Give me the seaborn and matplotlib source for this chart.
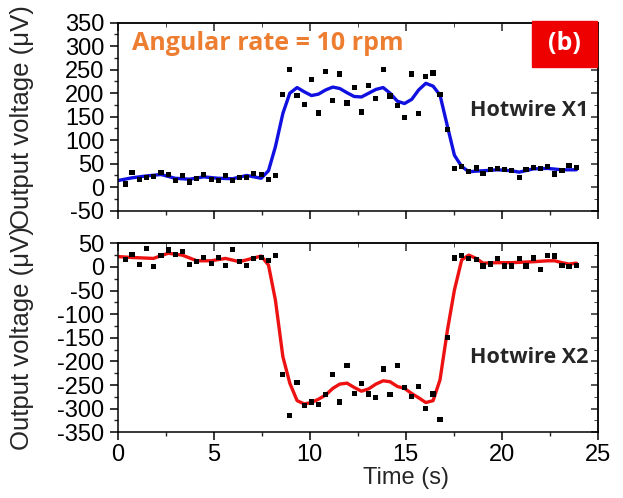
import numpy as np
import pandas as pd
import seaborn as sns
import matplotlib.pyplot as plt
from matplotlib.ticker import MultipleLocator
from matplotlib.patches import Rectangle

# sample times (s) of the measured points
t_pts = [0.40, 0.76, 1.15, 1.51, 1.87, 2.26, 2.64, 3.00, 3.37, 3.75, 4.13, 4.49,
         4.88, 5.24, 5.62, 5.99, 6.35, 6.73, 7.10, 7.48, 7.86, 8.22, 8.61, 8.97,
         9.35, 9.72, 10.10, 10.46, 10.84, 11.21, 11.57, 11.95, 12.32, 12.70, 13.08,
         13.45, 13.83, 14.19, 14.57, 14.94, 15.32, 15.68, 16.05, 16.43, 16.79, 17.18,
         17.54, 17.92, 18.29, 18.67, 19.03, 19.41, 19.78, 20.16, 20.52, 20.91, 21.27,
         21.65, 22.02, 22.40, 22.76, 23.14, 23.51, 23.89]

x1_pts = [7, 32, 17, 21, 22, 32, 27, 15, 25, 11, 19, 27,
          17, 15, 25, 15, 20, 21, 29, 27, 17, 25, 198, 251,
          195, 176, 229, 158, 247, 184, 241, 179, 212, 160, 217,
          188, 250, 194, 173, 148, 241, 157, 235, 243, 198, 122,
          40, 44, 34, 41, 29, 37, 40, 37, 35, 21, 37,
          42, 40, 44, 28, 35, 47, 42]

x2_pts = [16, 27, 5, 39, 1, 25, 36, 27, 33, 5, 11, 20,
          8, 20, 3, 37, 11, 3, 18, 20, 13, 25, -228, -314,
          -245, -293, -286, -291, -270, -228, -286, -208, -268, -247, -269,
          -277, -216, -270, -208, -256, -274, -253, -299, -269, -323, -150,
          19, 25, 18, 16, 2, 6, 18, 2, 2, 18, 2,
          19, -5, 25, 23, 3, 1, 3]

# smoothed curves
t_fit1 = [0.0, 0.76, 1.51, 2.26, 3.00, 3.75, 4.49, 5.24, 5.99, 6.73, 7.48, 7.86,
          8.22, 8.61, 8.97, 9.35, 9.72, 10.10, 10.46, 10.84, 11.21, 11.57, 11.95,
          12.32, 12.70, 13.08, 13.45, 13.83, 14.19, 14.57, 14.94, 15.32, 15.68,
          16.05, 16.43, 16.79, 17.18, 17.54, 17.92, 18.29, 19.03, 19.78, 20.52,
          20.91, 21.65, 22.40, 23.14, 23.89]
x1_fit = [14, 20, 24, 27, 19, 17, 22, 19, 18, 25, 19, 35,
          86, 157, 200, 212, 203, 195, 198, 207, 213, 210, 201,
          193, 192, 200, 208, 212, 200, 183, 178, 187, 207,
          221, 215, 196, 129, 68, 44, 33, 35, 37, 35,
          32, 39, 40, 37, 37]

t_fit2 = [0.0, 0.76, 1.87, 2.64, 3.37, 4.13, 4.88, 5.62, 6.35, 7.10, 7.48, 7.86,
          8.22, 8.61, 8.97, 9.35, 9.72, 10.10, 10.46, 10.84, 11.21, 11.57, 11.95,
          12.32, 12.70, 13.08, 13.45, 13.83, 14.19, 14.57, 14.94, 15.32, 15.68,
          16.05, 16.43, 16.79, 17.18, 17.54, 17.92, 18.29, 18.67, 19.03, 19.78,
          20.52, 21.65, 22.40, 22.76, 23.14, 23.51, 23.89]
x2_fit = [22, 20, 18, 29, 25, 13, 13, 18, 11, 19, 23, 4,
          -70, -190, -246, -283, -290, -287, -280, -271, -257, -248, -246,
          -255, -263, -258, -248, -241, -243, -253, -257, -268, -277,
          -287, -283, -239, -133, -49, 15, 25, 18, 8, 9,
          9, 11, 13, 13, 9, 6, 8]

W, H = 623, 498
sns.set_style("ticks")
plt.rcParams['font.family'] = ['Liberation Sans', 'DejaVu Sans']
plt.rcParams['axes.linewidth'] = 1.1
plt.rcParams['axes.unicode_minus'] = False

fig = plt.figure(figsize=(W / 100, H / 100), dpi=100)
ax1 = fig.add_axes([117.5 / W, 1 - 210.7 / H, 480.2 / W, 188 / H])
ax2 = fig.add_axes([117.5 / W, 1 - 432.3 / H, 480.2 / W, 189 / H])


def style_axis(ax, ylo, yhi):
    ax.set_xlim(0, 25)
    ax.set_ylim(ylo, yhi)
    ax.xaxis.set_major_locator(MultipleLocator(5))
    ax.xaxis.set_minor_locator(MultipleLocator(2.5))
    ax.yaxis.set_major_locator(MultipleLocator(50))
    ax.yaxis.set_minor_locator(MultipleLocator(25))
    ax.tick_params(which='major', direction='out', length=5.5, width=1.1,
                   labelsize=17, colors='black', pad=4)
    ax.tick_params(which='minor', direction='out', length=3, width=1.0)
    ax.tick_params(axis='x', which='major', pad=3)
    for sp in ax.spines.values():
        sp.set_visible(True)
        sp.set_color('black')
    # inward ticks on right and top
    sec_y = ax.secondary_yaxis('right')
    sec_y.yaxis.set_major_locator(MultipleLocator(50))
    sec_y.yaxis.set_minor_locator(MultipleLocator(25))
    sec_y.tick_params(which='both', direction='in', labelright=False)
    sec_y.tick_params(which='major', length=5, width=1.1)
    sec_y.tick_params(which='minor', length=3)
    sec_x = ax.secondary_xaxis('top')
    sec_x.xaxis.set_major_locator(MultipleLocator(5))
    sec_x.xaxis.set_minor_locator(MultipleLocator(2.5))
    sec_x.tick_params(which='both', direction='in', labeltop=False)
    sec_x.tick_params(which='major', length=5.5, width=1.1)
    sec_x.tick_params(which='minor', length=3)
    ax.set_ylabel('Output voltage (\u03bcV)', fontsize=18.5)
    ax.yaxis.set_label_coords((34 - 117.5) / 480.2, 0.5)


df1 = pd.DataFrame({'t': t_pts, 'v': x1_pts})
df2 = pd.DataFrame({'t': t_pts, 'v': x2_pts})
fit1 = pd.DataFrame({'t': t_fit1, 'v': x1_fit})
fit2 = pd.DataFrame({'t': t_fit2, 'v': x2_fit})

sns.scatterplot(data=df1, x='t', y='v', ax=ax1, marker='s', s=14, color='black',
                edgecolor='none', zorder=3)
sns.lineplot(data=fit1, x='t', y='v', ax=ax1, color='#1010e0', lw=2.4, zorder=2)
sns.scatterplot(data=df2, x='t', y='v', ax=ax2, marker='s', s=14, color='black',
                edgecolor='none', zorder=3)
sns.lineplot(data=fit2, x='t', y='v', ax=ax2, color='#ee1111', lw=2.4, zorder=2)

style_axis(ax1, -50, 350)
style_axis(ax2, -350, 50)
ax1.set_xlabel('')
ax1.tick_params(axis='x', labelbottom=False)
ax2.set_xlabel('Time (s)', fontsize=17, labelpad=0)
# the x label sits under the 15 s tick in the original
ax2.xaxis.set_label_coords((406 - 117.5) / 480.2, -(467 - 432.3) / 189)

ax1.text(131.7 / W, 1 - 44 / H, 'Angular rate = 10 rpm', transform=fig.transFigure,
         color='#ed7d31', fontsize=18, fontweight='bold', family='Open Sans',
         va='center', ha='left')
ax1.add_patch(Rectangle((531.7 / W, 1 - 66.7 / H), 65.6 / W, 46 / H,
                        transform=fig.transFigure, color='#ee0000', zorder=5,
                        clip_on=False))
ax1.text(564.5 / W, 1 - 44 / H, '(b)', transform=fig.transFigure, color='white',
         fontsize=18, fontweight='bold', family='Open Sans', ha='center',
         va='center', zorder=6)
ax1.text(588 / W, 1 - 110 / H, 'Hotwire X1', transform=fig.transFigure,
         fontsize=15.5, fontweight='bold', family='Open Sans', ha='right', va='center')
ax2.text(588 / W, 1 - 357 / H, 'Hotwire X2', transform=fig.transFigure,
         fontsize=15.5, fontweight='bold', family='Open Sans', ha='right', va='center')

fig.savefig('out.png', dpi=100)
